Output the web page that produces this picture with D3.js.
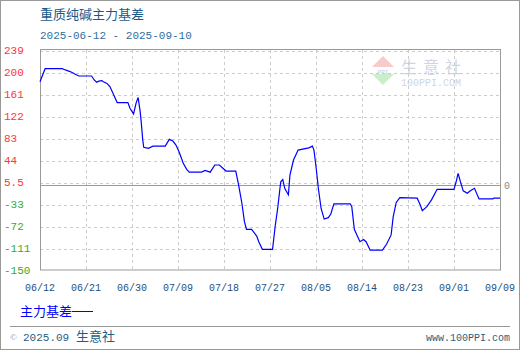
<!DOCTYPE html>
<html>
<head>
<meta charset="utf-8">
<script src="https://cdn.jsdelivr.net/npm/d3@7/dist/d3.min.js"></script>
<style>
  body { margin: 0; background: #fff; }
  svg { display: block; }
</style>
</head>
<body>
<svg id="chart" width="520" height="350"></svg>
<script>
// data: days since 2025-06-12, main contract basis
const dayIdx = [0, 1, 4.4, 4.6, 5.5, 6.2, 6.9, 7.6, 10.1, 10.6, 11.1, 11.5, 12.1, 12.4, 13.1, 13.7, 14.3, 15.1,
  17.2, 17.6, 18.3, 18.8, 19.2, 19.6, 19.8, 20.1, 20.3, 21.2, 22.1, 24.5, 25.3, 26, 26.6, 27.2, 27.8, 28,
  28.7, 29.2, 31.6, 32.3, 33.3, 34.2, 35.1, 36.4, 38.3, 38.8, 39.5, 40, 40.4, 41.4, 42.4, 42.8, 43.5, 45.5,
  46, 46.5, 47.1, 47.5, 47.9, 48.6, 48.9, 49.6, 50.5, 52.6, 53.3, 53.6, 54, 54.5, 55, 55.6, 56.4, 56.9,
  57.5, 60.7, 61, 61.5, 62, 62.6, 63.3, 63.8, 64.6, 67, 67.8, 68.7, 69.1, 69.7, 70.4, 73.8, 74.4, 74.8,
  75.7, 76.6, 77.7, 81, 81.5, 81.8, 82.3, 82.8, 83.6, 84.2, 85, 85.9, 88.6, 88.8, 90];
const basis = [183, 206, 206, 205, 202, 199.6, 196, 193, 193, 186, 182, 184, 185, 183, 180, 174, 162, 146,
  146, 136, 126, 145, 155, 130, 112, 80, 67, 65, 69, 69, 81, 78, 71, 59, 44.5, 39,
  28, 23, 23, 26, 23, 35.7, 35.7, 25, 25, 3, -32, -64.5, -78, -78, -90, -100, -113.5, -113.5,
  -73.6, -41, 6, 10, -6, -17, 18, 44.5, 62, 66, 69, 62, 33, -8.5, -41, -60, -57.5, -51,
  -33, -33, -38, -78, -88, -100, -96, -100, -115, -115, -104.5, -88, -56, -30.5, -22, -23, -35, -45,
  -38, -26, -7.3, -7.3, 9, 21, 5, -10, -14.4, -10, -5.6, -24.4, -24.4, -23, -23];

const yTicks = [239, 200.1, 161.2, 122.3, 83.4, 44.5, 5.6, -33.3, -72.2, -111.1, -150];
const yLabels = ["239", "200", "161", "122", "83", "44", "5.5", "-33", "-72", "-111", "-150"];
const xTicks = [0, 9, 18, 27, 36, 45, 54, 63, 72, 81, 90];
const xLabels = ["06/12", "06/21", "06/30", "07/09", "07/18", "07/27", "08/05", "08/14", "08/23", "09/01", "09/09"];

const title = "重质纯碱主力基差";
const subtitle = "2025-06-12 - 2025-09-10";
const seriesName = "主力基差";

const svg = d3.select("#chart");
const pLeft = 40, pRight = 500, pTop = 50, pBottom = 270;
const mono = "'Liberation Mono', 'DejaVu Sans Mono', monospace";
const cjk = "'Noto Sans CJK SC', sans-serif";

const x = d3.scaleLinear().domain([0, 90]).range([pLeft, pRight]);
const y = d3.scaleLinear().domain([-150, 239]).range([pBottom, pTop]);

// outer frame
svg.append("rect").attr("x", 0.5).attr("y", 0.5).attr("width", 519).attr("height", 349)
  .attr("fill", "#fff").attr("stroke", "#999");

svg.append("text").attr("x", 40).attr("y", 19).attr("font-family", cjk).attr("font-size", 13)
  .attr("fill", "#1a5a8a").text(title);
svg.append("text").attr("x", 40).attr("y", 39).attr("font-family", mono).attr("font-size", 11)
  .attr("fill", "#2f6f9f").text(subtitle);

// watermark
const wm = svg.append("g").attr("opacity", 0.55);
wm.append("path").attr("d", "M372,67 L383,56 L394,67 Z").attr("fill", "#f4a0a0");
wm.append("path").attr("d", "M372,74 L383,85 L394,74 Z").attr("fill", "#a0e0a0");
wm.append("rect").attr("x", 372).attr("y", 67).attr("width", 22).attr("height", 7).attr("fill", "#fff");
wm.append("text").attr("x", 383).attr("y", 73.5).attr("text-anchor", "middle").attr("font-size", 6)
  .attr("font-family", mono).attr("fill", "#8899bb").text("PPI");
wm.append("text").attr("x", 401).attr("y", 73).attr("font-family", cjk).attr("font-size", 16)
  .attr("letter-spacing", 6).attr("fill", "#a8b4d0").text("生意社");
wm.append("text").attr("x", 401).attr("y", 86).attr("font-family", mono).attr("font-size", 10)
  .attr("fill", "#a8b4d0").text("100PPI.COM");

// grid
const grid = svg.append("g").attr("stroke", "#ccc").attr("stroke-dasharray", "3,3");
grid.selectAll("line.h").data(yTicks.slice(0, -1)).join("line")
  .attr("x1", pLeft).attr("x2", pRight)
  .attr("y1", d => Math.round(y(d)) + 1.5).attr("y2", d => Math.round(y(d)) + 1.5);
grid.selectAll("line.v").data(xTicks.slice(1, -1)).join("line")
  .attr("x1", d => Math.round(x(d)) + 0.5).attr("x2", d => Math.round(x(d)) + 0.5)
  .attr("y1", pTop).attr("y2", pBottom);

// frame and zero line
svg.append("rect").attr("x", pLeft + 0.5).attr("y", pTop - 0.5).attr("width", pRight - pLeft)
  .attr("height", pBottom - pTop + 0.5).attr("fill", "none").attr("stroke", "#999");
svg.append("line").attr("x1", pLeft).attr("x2", pRight)
  .attr("y1", Math.round(y(0)) + 0.5).attr("y2", Math.round(y(0)) + 0.5).attr("stroke", "#999");
svg.append("text").attr("x", 504).attr("y", y(0) + 4).attr("font-family", mono).attr("font-size", 10)
  .attr("fill", "#888").text("0");

// y labels
svg.append("g").selectAll("text").data(yTicks).join("text")
  .attr("x", 4).attr("y", d => y(d) + 4)
  .attr("font-family", mono).attr("font-size", 11)
  .attr("fill", d => d > 0 ? "#ff3333" : "#33aa33")
  .text((d, i) => yLabels[i]);

// x labels
svg.append("g").selectAll("text").data(xTicks).join("text")
  .attr("x", d => x(d)).attr("y", 291).attr("text-anchor", "middle")
  .attr("font-family", mono).attr("font-size", 10).attr("fill", "#1f4f7f")
  .text((d, i) => xLabels[i]);

// series
const line = d3.line().x(d => x(d[0])).y(d => y(d[1]));
svg.append("path").datum(d3.zip(dayIdx, basis))
  .attr("d", line).attr("fill", "none").attr("stroke", "#0000ff").attr("stroke-width", 1.2);

// legend
svg.append("text").attr("x", 20).attr("y", 316).attr("font-family", cjk).attr("font-size", 13)
  .attr("fill", "#0000ff").text(seriesName);
svg.append("line").attr("x1", 72).attr("x2", 93).attr("y1", 311.5).attr("y2", 311.5)
  .attr("stroke", "#0000ff");

// footer
svg.append("line").attr("x1", 10).attr("x2", 510).attr("y1", 326.5).attr("y2", 326.5).attr("stroke", "#999");
svg.append("text").attr("x", 10).attr("y", 340).attr("font-size", 9).attr("fill", "#7a9ab0").text("©");
svg.append("text").attr("x", 23).attr("y", 341).attr("font-family", mono).attr("font-size", 11)
  .attr("fill", "#1f5f7f").text("2025.09");
svg.append("text").attr("x", 76).attr("y", 341).attr("font-family", cjk).attr("font-size", 13)
  .attr("fill", "#1f5f7f").text("生意社");
svg.append("text").attr("x", 510).attr("y", 341).attr("text-anchor", "end").attr("font-family", mono)
  .attr("font-size", 10).attr("fill", "#1f5f7f").text("www.100PPI.com");
</script>
</body>
</html>
